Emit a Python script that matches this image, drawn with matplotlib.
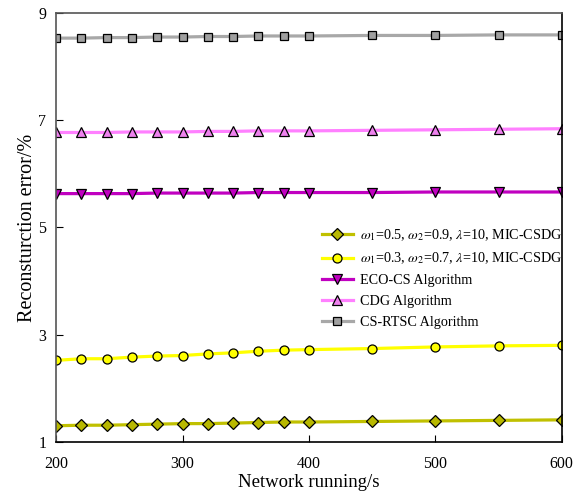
import matplotlib
matplotlib.use("Agg")
import matplotlib.pyplot as plt

plt.rcParams['font.family'] = ['Liberation Serif', 'DejaVu Serif']
plt.rcParams['mathtext.fontset'] = 'stix'

# network running time (s)
time_s = [200, 220, 240, 260, 280, 300, 320, 340, 360, 380, 400, 450, 500, 550, 600]

# reconstruction error (%) per method
mic_05_09 = [1.30, 1.31, 1.31, 1.32, 1.33, 1.34, 1.34, 1.35, 1.36, 1.37, 1.37, 1.38, 1.39, 1.40, 1.41]
mic_03_07 = [2.52, 2.55, 2.55, 2.58, 2.60, 2.61, 2.64, 2.66, 2.69, 2.71, 2.72, 2.74, 2.77, 2.79, 2.80]
eco_cs = [5.63, 5.63, 5.63, 5.63, 5.64, 5.64, 5.64, 5.64, 5.65, 5.65, 5.65, 5.65, 5.66, 5.66, 5.66]
cdg = [6.77, 6.77, 6.77, 6.78, 6.78, 6.78, 6.79, 6.79, 6.80, 6.80, 6.80, 6.81, 6.82, 6.83, 6.84]
cs_rtsc = [8.53, 8.53, 8.54, 8.54, 8.55, 8.55, 8.56, 8.56, 8.57, 8.57, 8.57, 8.58, 8.58, 8.59, 8.59]

labels = [r"$\omega_1$=0.5, $\omega_2$=0.9, $\lambda$=10, MIC-CSDG",
          r"$\omega_1$=0.3, $\omega_2$=0.7, $\lambda$=10, MIC-CSDG",
          "ECO-CS Algorithm",
          "CDG Algorithm",
          "CS-RTSC Algorithm"]

fig = plt.figure(figsize=(5.84, 4.97), dpi=100)
ax = fig.add_axes([0.096, 0.111, 0.866, 0.863])

lw = 2.3
ms = 6.5
ax.plot(time_s, mic_05_09, color='#c0c000', lw=lw, marker='D', ms=ms,
        mfc='#b8b800', mec='black', mew=0.9, label=labels[0])
ax.plot(time_s, mic_03_07, color='#ffff00', lw=lw, marker='o', ms=ms,
        mfc='#ffff00', mec='black', mew=0.9, label=labels[1])
ax.plot(time_s, eco_cs, color='#c000c0', lw=lw, marker='v', ms=ms,
        mfc='#c000c0', mec='black', mew=0.9, label=labels[2])
ax.plot(time_s, cdg, color='#ff80ff', lw=lw, marker='^', ms=ms,
        mfc='#ee82ee', mec='black', mew=0.9, label=labels[3])
ax.plot(time_s, cs_rtsc, color='#a8a8a8', lw=lw, marker='s', ms=ms - 0.7,
        mfc='#a0a0a0', mec='black', mew=0.9, label=labels[4])

ax.set_xlim(200, 600)
ax.set_ylim(1, 9)
ax.set_xticks([200, 300, 400, 500, 600])
ax.set_yticks([1, 3, 5, 7, 9])
ax.tick_params(direction='in', labelsize=11.5, length=5)
ax.tick_params(axis='x', pad=10)
ax.tick_params(axis='y', pad=7)
for sp in ax.spines.values():
    sp.set_linewidth(1.2)
ax.spines['left'].set_color('#555555')
ax.spines['top'].set_color('#555555')

ax.set_xlabel("Network running/s", fontsize=13.5, labelpad=2)
ax.set_ylabel("Reconsturction error/%", fontsize=14.5, labelpad=1)

ax.legend(loc='upper left', bbox_to_anchor=(0.5, 0.53), frameon=False,
          fontsize=10.2, handlelength=2.2, handletextpad=0.5, labelspacing=0.55)

fig.savefig("out.png", dpi=100)
